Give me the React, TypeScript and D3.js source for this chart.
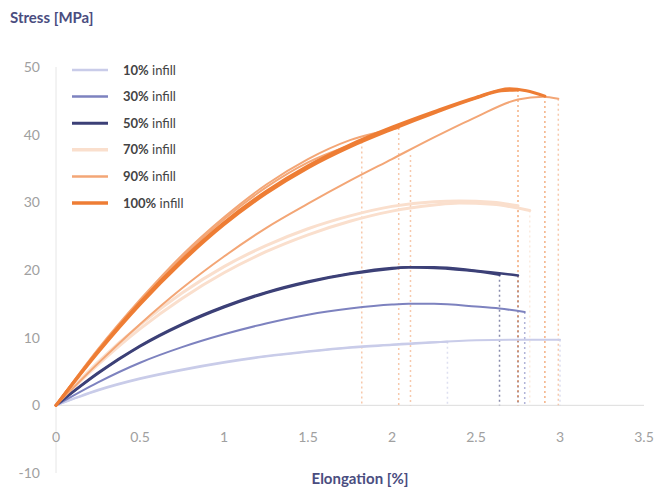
import React from "react";
import * as d3 from "d3";

const W = 656, H = 496;
const xTicks = [0, 0.5, 1, 1.5, 2, 2.5, 3, 3.5];
const xTickLabels = ["0", "0.5", "1", "1.5", "2", "2.5", "3", "3.5"];
const yTicks = [-10, 0, 10, 20, 30, 40, 50];
const yTickLabels = ["-10", "0", "10", "20", "30", "40", "50"];

const seriesNames = ["10% infill", "30% infill", "50% infill", "70% infill", "90% infill", "100% infill"];
const seriesColors = ["#c9cce9", "#7d82bf", "#3c4077", "#fadfcd", "#f3a676", "#ee7d34"];
const seriesWidths = [2, 2, 2.5, 3, 2, 3];

const s10a_x = [0, 0.25, 0.5, 0.75, 1, 1.25, 1.5, 1.75, 2, 2.25, 2.5, 2.75, 3.0];
const s10a_y = [0, 2.2, 3.9, 5.2, 6.3, 7.2, 7.9, 8.5, 8.9, 9.3, 9.6, 9.7, 9.7];
const s10b_x = [0, 0.25, 0.5, 0.75, 1, 1.25, 1.5, 1.75, 2, 2.2, 2.33];
const s10b_y = [0, 2.3, 4.0, 5.3, 6.4, 7.3, 8.0, 8.6, 9.0, 9.3, 9.4];
const s30a_x = [0, 0.25, 0.5, 0.75, 1, 1.25, 1.5, 1.75, 2, 2.1, 2.25, 2.5, 2.64, 2.79];
const s30a_y = [0, 3.4, 6.3, 8.6, 10.5, 12.1, 13.4, 14.3, 14.9, 15.0, 15.0, 14.6, 14.3, 13.8];
const s50a_x = [0, 0.25, 0.5, 0.75, 1, 1.25, 1.5, 1.75, 2, 2.1, 2.25, 2.5, 2.64];
const s50a_y = [0, 4.8, 8.8, 12.0, 14.6, 16.7, 18.3, 19.5, 20.3, 20.4, 20.3, 19.8, 19.3];
const s50b_x = [0, 0.25, 0.5, 0.75, 1, 1.25, 1.5, 1.75, 2, 2.1, 2.25, 2.5, 2.75];
const s50b_y = [0, 4.7, 8.7, 11.9, 14.5, 16.6, 18.2, 19.4, 20.2, 20.4, 20.4, 19.9, 19.2];
const s70a_x = [0, 0.25, 0.5, 0.75, 1, 1.25, 1.5, 1.75, 2, 2.25, 2.4, 2.6, 2.82];
const s70a_y = [0, 6.0, 11.3, 15.8, 19.6, 22.7, 25.2, 27.2, 28.7, 29.6, 29.9, 29.7, 28.8];
const s70b_x = [0, 0.25, 0.5, 0.75, 1, 1.25, 1.5, 1.75, 2, 2.25, 2.4, 2.6, 2.75];
const s70b_y = [0, 6.4, 11.9, 16.6, 20.5, 23.6, 26.1, 28.0, 29.4, 30.1, 30.2, 30.0, 29.5];
const s90a_x = [0, 0.25, 0.5, 0.75, 1, 1.25, 1.5, 1.75, 2, 2.25, 2.5, 2.75, 2.9, 2.99];
const s90a_y = [0, 6.2, 12.0, 17.3, 22.0, 26.2, 29.8, 33.2, 36.4, 39.6, 42.6, 45.2, 45.6, 45.3];
const s90b_x = [0, 0.25, 0.5, 0.75, 1, 1.25, 1.5, 1.75, 2.04];
const s90b_y = [0, 8.3, 15.6, 22.2, 27.8, 32.6, 36.4, 39.2, 41.0];
const s90c_x = [0, 0.25, 0.5, 0.75, 1, 1.25, 1.5, 1.82];
const s90c_y = [0, 8.2, 15.4, 21.9, 27.5, 32.2, 35.9, 39.0];
const s100a_x = [0, 0.25, 0.5, 0.75, 1, 1.25, 1.5, 1.75, 2, 2.25, 2.5, 2.7, 2.8, 2.91];
const s100a_y = [0, 8.0, 15.2, 21.5, 27.0, 31.6, 35.4, 38.5, 41.1, 43.4, 45.5, 46.8, 46.5, 45.7];
const s100b_x = [0, 0.25, 0.5, 0.75, 1, 1.25, 1.5, 1.75, 2, 2.25, 2.5, 2.65, 2.75];
const s100b_y = [0, 7.8, 14.9, 21.2, 26.7, 31.3, 35.1, 38.2, 40.8, 43.2, 45.4, 46.5, 46.6];

const specimens: [number, number[], number[]][] = [
  [3, s70a_x, s70a_y], [3, s70b_x, s70b_y],
  [0, s10a_x, s10a_y], [0, s10b_x, s10b_y],
  [1, s30a_x, s30a_y],
  [2, s50a_x, s50a_y], [2, s50b_x, s50b_y],
  [4, s90a_x, s90a_y], [4, s90b_x, s90b_y], [4, s90c_x, s90c_y],
  [5, s100a_x, s100a_y], [5, s100b_x, s100b_y],
];

const dropExtraX = [2.11];
const dropExtraY = [37.0];
const dropExtraSeries = [4];

export default function App() {
  const x = d3.scaleLinear().domain([0, 3.5]).range([56, 644]);
  const y = d3.scaleLinear().domain([-10, 50]).range([473, 67]);
  const line = d3.line<[number, number]>().x(d => x(d[0])).y(d => y(d[1])).curve(d3.curveMonotoneX);
  const font = "Lato, 'Open Sans', sans-serif";

  const drops: { x: number; y: number; s: number }[] = [];
  specimens.forEach(([s, xs, ys]) => drops.push({ x: xs[xs.length - 1], y: ys[ys.length - 1], s }));
  dropExtraX.forEach((v, i) => drops.push({ x: v, y: dropExtraY[i], s: dropExtraSeries[i] }));

  return (
    <svg width={W} height={H} style={{ position: "absolute", left: 0, top: 0, background: "#fff" }} fontFamily={font}>
      <text x={10} y={23} fontSize={15} fontWeight={700} fill="#4a4d80">Stress [MPa]</text>
      <line x1={x(0)} x2={x(0)} y1={y(50)} y2={y(-10)} stroke="#e6e6e6" strokeWidth={1} />
      <line x1={x(0)} x2={x(3.5)} y1={y(0)} y2={y(0)} stroke="#dcdcdc" strokeWidth={1} />
      {yTicks.map((t, i) => (
        <text key={"y" + i} x={40} y={y(t) + 5} fontSize={14} fill="#a0a0a0" textAnchor="end">{yTickLabels[i]}</text>
      ))}
      {xTicks.map((t, i) => (
        <text key={"x" + i} x={x(t)} y={442} fontSize={14} fill="#a0a0a0" textAnchor="middle">{xTickLabels[i]}</text>
      ))}
      <text x={360} y={484} fontSize={15} fontWeight={700} fill="#4a4d80" textAnchor="middle">Elongation [%]</text>
      {drops.map((d, i) => (
        <line key={"d" + i} x1={x(d.x)} x2={x(d.x)} y1={y(d.y)} y2={y(0)} stroke={seriesColors[d.s]}
          strokeWidth={1.5} strokeDasharray="2,3" opacity={0.6} />
      ))}
      {specimens.map(([s, xs, ys], i) => (
        <path key={"p" + i} d={line(xs.map((v, j) => [v, ys[j]] as [number, number])) || ""} fill="none"
          stroke={seriesColors[s]} strokeWidth={seriesWidths[s]} strokeLinecap="round" />
      ))}
      {seriesNames.map((n, i) => {
        const yy = 70 + i * 26.6;
        const [pct, rest] = n.split(" ");
        return (
          <g key={"l" + i}>
            <line x1={72} x2={108} y1={yy} y2={yy} stroke={seriesColors[i]} strokeWidth={seriesWidths[i] + 0.5} />
            <text x={123} y={yy + 4.5} fontSize={13} fill="#444">
              <tspan fontWeight={700}>{pct}</tspan> {rest}
            </text>
          </g>
        );
      })}
    </svg>
  );
}
